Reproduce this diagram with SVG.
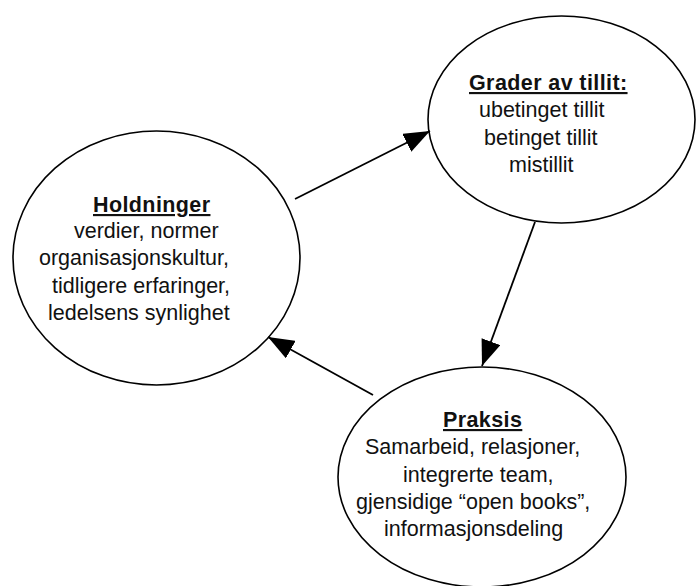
<svg xmlns="http://www.w3.org/2000/svg" width="696" height="586" viewBox="0 0 696 586">
  <style>
    .node ellipse { fill: #ffffff; stroke: #000000; stroke-width: 1.6; }
    .node text { font-family: "Liberation Sans", Arial, sans-serif; font-size: 21.5px; fill: #111111; }
    .node text.title { font-weight: bold; text-decoration: underline; letter-spacing: 0.4px; }
    .edges line { stroke: #000000; stroke-width: 1.8; fill: none; marker-end: url(#arrow); }
  </style>
  <defs>
    <marker id="arrow" viewBox="0 0 26 20" refX="26" refY="10" markerWidth="26" markerHeight="20" markerUnits="userSpaceOnUse" orient="auto">
      <path d="M0,0 L26,10 L0,20 Z" fill="#000000"/>
    </marker>
  </defs>
  <rect width="696" height="586" fill="#ffffff"/>

  <!-- Holdninger -->
  <g id="holdninger" class="node">
    <ellipse cx="156.5" cy="258" rx="143.5" ry="127"/>
    <text class="title" x="93" y="212">Holdninger</text>
    <text x="74" y="238">verdier, normer</text>
    <text x="39" y="265">organisasjonskultur,</text>
    <text x="52" y="293">tidligere erfaringer,</text>
    <text x="48" y="320">ledelsens synlighet</text>
  </g>

  <!-- Grader av tillit -->
  <g id="grader" class="node">
    <ellipse cx="561.5" cy="119.5" rx="133.5" ry="103.5"/>
    <text class="title" x="469" y="90">Grader av tillit:</text>
    <text x="479" y="117">ubetinget tillit</text>
    <text x="484" y="145">betinget tillit</text>
    <text x="509" y="172">mistillit</text>
  </g>

  <!-- Praksis -->
  <g id="praksis" class="node">
    <ellipse cx="482" cy="477" rx="144" ry="110"/>
    <text class="title" x="443" y="427">Praksis</text>
    <text x="365" y="454">Samarbeid, relasjoner,</text>
    <text x="403" y="482">integrerte team,</text>
    <text x="356" y="509">gjensidige “open books”,</text>
    <text x="384" y="536">informasjonsdeling</text>
  </g>

  <!-- Cycle connectors -->
  <g id="edges" class="edges">
    <line x1="295" y1="199" x2="430" y2="131"/>
    <line x1="535" y1="222" x2="482" y2="366"/>
    <line x1="373" y1="395" x2="268" y2="337"/>
  </g>
</svg>
